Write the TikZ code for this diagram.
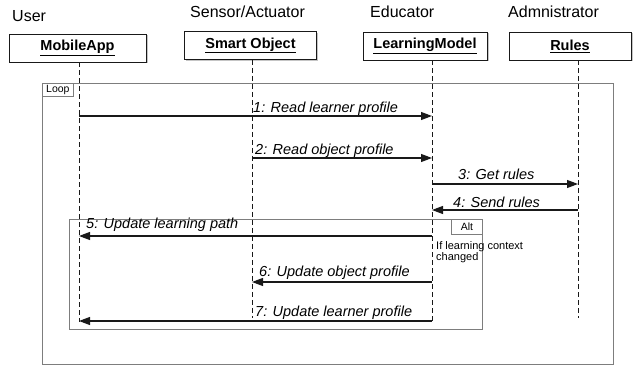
\documentclass[tikz,border=0pt]{standalone}
\usepackage{fontspec}
\setmainfont{Liberation Sans}
\usetikzlibrary{arrows.meta,shadows}
\definecolor{seqgray}{RGB}{125,125,125}
\definecolor{seqblack}{RGB}{25,25,25}

\begin{document}
\begin{tikzpicture}[x=1pt, y=-1pt,
    actor/.style={anchor=base west, inner sep=0pt, font=\fontsize{16}{18}\selectfont},
    objbox/.style={draw=seqblack, fill=white, line width=0.8pt, inner sep=0pt, %
      minimum height=28pt, font=\fontsize{14.5}{17}\bfseries, %
      drop shadow={shadow xshift=1.5pt, shadow yshift=-1.5pt, fill=black!45}},
    life/.style={seqblack, line width=0.8pt, dash pattern=on 5pt off 3pt},
    msg/.style={seqblack, line width=1.1pt, -{Triangle[length=11pt,width=8pt]}},
    lbl/.style={anchor=base west, inner sep=0pt, font=\fontsize{14.5}{17}\itshape},
    frame/.style={draw=seqgray, line width=0.8pt, inner sep=0pt, anchor=north west},
    tag/.style={draw=seqgray, line width=0.7pt, inner sep=0pt, minimum width=31pt, %
      font=\fontsize{10.5}{12}\selectfont}]
  \useasboundingbox (0,0) rectangle (633,366);

  % Actors
  \node[actor] (user) at (12,22) {User};
  \node[actor] (sensor) at (190,18) {Sensor/Actuator};
  \node[actor] (educator) at (370,18) {Educator};
  \node[actor] (admin) at (508,18) {Admnistrator};

  % Object boxes
  \node[objbox, minimum width=137pt] (app) at (77.5,48) {\underline{MobileApp}};
  \node[objbox, minimum width=132pt] (obj) at (250.5,45.5) {\underline{Smart Object}};
  \node[objbox, minimum width=124pt] (lm) at (425,46) {\underline{LearningModel}};
  \node[objbox, minimum width=122pt] (rules) at (570,46) {\underline{Rules}};

  % Frames
  \node[frame, minimum width=571pt, minimum height=281pt] (loop) at (42,83) {};
  \node[tag, anchor=north west, minimum height=13pt] (looptag) at (loop.north west) {Loop};
  \node[frame, minimum width=413pt, minimum height=110pt] (alt) at (69,219) {};
  \node[tag, anchor=north east, minimum height=15pt] (alttag) at (alt.north east) {Alt};
  \node[anchor=north west, inner sep=0pt, align=left, %
    font=\fontsize{11}{11.5}\selectfont] (cond) at (436,241) {If learning context\\changed};

  % Lifelines
  \coordinate (append) at (79,322);
  \coordinate (objend) at (252,318);
  \coordinate (lmend) at (432,322);
  \coordinate (rulesend) at (578,318);
  \draw[life] (append |- app.south) -- (append);
  \draw[life] (objend |- obj.south) -- (objend);
  \draw[life] (lmend |- lm.south) -- (lmend);
  \draw[life] (rulesend |- rules.south) -- (rulesend);

  % Messages
  \draw[msg] (append |- 0,116) -- (lmend |- 0,116);
  \node[lbl] (m1) at (253,112.5) {1: Read learner profile};
  \draw[msg] (objend |- 0,158) -- (lmend |- 0,158);
  \node[lbl] (m2) at (255,155) {2: Read object profile};
  \draw[msg] (lmend |- 0,184) -- (rulesend |- 0,184);
  \node[lbl] (m3) at (458,180) {3: Get rules};
  \draw[msg] (rulesend |- 0,210) -- (lmend |- 0,210);
  \node[lbl] (m4) at (453,208) {4: Send rules};
  \draw[msg] (lmend |- 0,236) -- (append |- 0,236);
  \node[lbl] (m5) at (86,229) {5: Update learning path};
  \draw[msg] (lmend |- 0,282) -- (objend |- 0,282);
  \node[lbl] (m6) at (259,277) {6: Update object profile};
  \draw[msg] (lmend |- 0,321) -- (append |- 0,321);
  \node[lbl] (m7) at (255,317) {7: Update learner profile};
\end{tikzpicture}
\end{document}
